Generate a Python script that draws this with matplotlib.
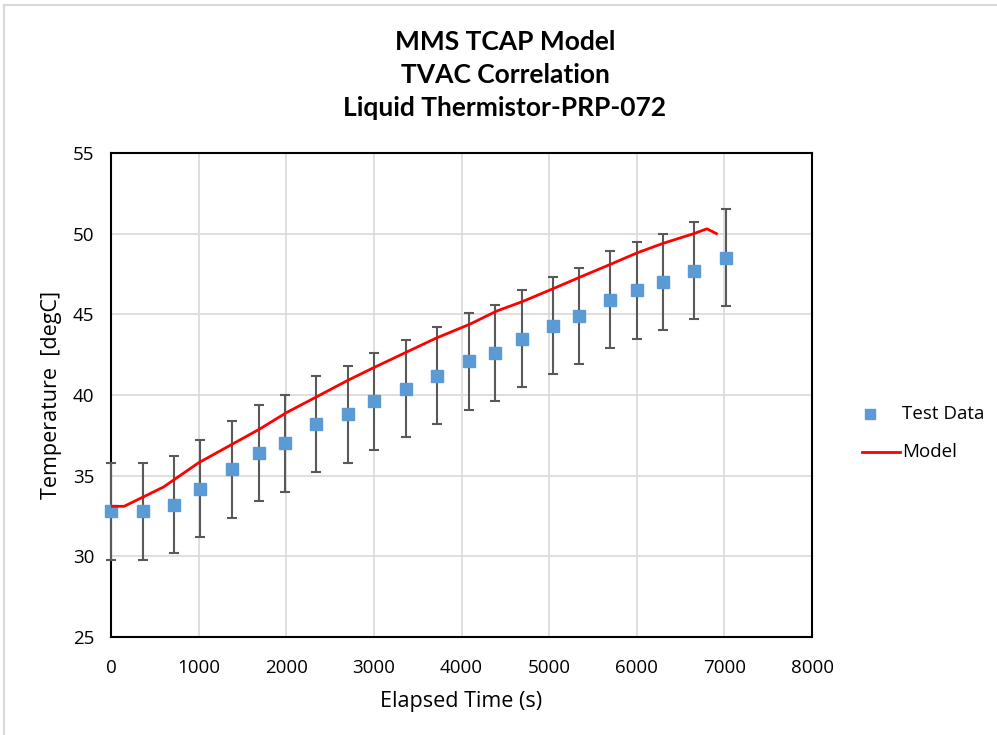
import matplotlib
matplotlib.use("Agg")
import matplotlib.pyplot as plt
from matplotlib.lines import Line2D

# Test data (elapsed time in s, temperature in degC) with +/- uncertainty
test_time = [0, 365, 719, 1015, 1380, 1687, 1984, 2338, 2702, 2999, 3364,
             3717, 4082, 4379, 4686, 5040, 5336, 5690, 5998, 6294, 6659, 7024]
test_temp = [32.8, 32.8, 33.2, 34.2, 35.4, 36.4, 37.0, 38.2, 38.8, 39.6, 40.4,
             41.2, 42.1, 42.6, 43.5, 44.3, 44.9, 45.9, 46.5, 47.0, 47.7, 48.5]
test_err = [3.0] * len(test_time)

# Model prediction
model_time = [0, 150, 600, 1000, 1400, 1700, 2000, 2350, 2700, 3000, 3350, 3700,
              4100, 4400, 4700, 5050, 5350, 5700, 6000, 6300, 6650, 6800, 6910]
model_temp = [33.1, 33.1, 34.3, 35.8, 37.0, 37.9, 38.9, 39.9, 40.9, 41.7, 42.6,
              43.5, 44.4, 45.2, 45.8, 46.6, 47.3, 48.1, 48.8, 49.4, 50.0, 50.3, 50.0]

x_ticks = [0, 1000, 2000, 3000, 4000, 5000, 6000, 7000, 8000]
y_ticks = [25, 30, 35, 40, 45, 50, 55]

title_lines = ["MMS TCAP Model", "TVAC Correlation", "Liquid Thermistor-PRP-072"]
legend_labels = ["Test Data", "Model"]

plt.rcParams['font.family'] = ['Open Sans', 'DejaVu Sans']

W, H = 997, 735
fig = plt.figure(figsize=(W / 100, H / 100), dpi=100)
ax = fig.add_axes([111 / W, 1 - 637 / H, (812 - 111) / W, (637 - 153) / H])

ax.errorbar(test_time, test_temp, yerr=test_err, fmt='s', color='#5B9BD5',
            markersize=8, ecolor='#595959', elinewidth=1.5, capsize=3.5,
            capthick=1.5, clip_on=False, zorder=3)
ax.plot(model_time, model_temp, color='#FF0000', linewidth=2, zorder=4)

ax.set_xlim(0, 8000)
ax.set_ylim(25, 55)
ax.set_xticks(x_ticks)
ax.set_yticks(y_ticks)
ax.tick_params(length=0, labelsize=13.5, colors='#000000', pad=12)
ax.tick_params(axis='x', pad=16)
ax.grid(True, color='#d9d9d9', linewidth=1.2)
ax.set_axisbelow(True)
for s in ax.spines.values():
    s.set_color('#000000')
    s.set_linewidth(1.5)

ax.set_xlabel('Elapsed Time (s)', fontsize=15.5, labelpad=10)
ax.set_ylabel('Temperature  [degC]', fontsize=15.5, labelpad=8)

for i, line in enumerate(title_lines):
    fig.text(505 / W, 1 - (42 + 33 * i) / H, line, ha='center', va='center',
             fontsize=19, fontweight='bold', family=['Lato', 'DejaVu Sans'])

# Legend entries
def fx(px):
    return px / W

def fy(py):
    return 1 - py / H

fig.add_artist(Line2D([fx(870)], [fy(414)], transform=fig.transFigure, marker='s',
                      linestyle='none', color='#5B9BD5', markersize=7))
fig.add_artist(Line2D([fx(862), fx(900)], [fy(452), fy(452)], transform=fig.transFigure,
                      color='#FF0000', linewidth=2))
fig.text(fx(902), fy(414), legend_labels[0], ha='left', va='center', fontsize=13.5)
fig.text(fx(902), fy(452), legend_labels[1], ha='left', va='center', fontsize=13.5)

# Chart-area border
fig.add_artist(Line2D([fx(4), fx(4)], [0, fy(5)], transform=fig.transFigure,
                      color='#d9d9d9', linewidth=1.5))
fig.add_artist(Line2D([fx(4), 1], [fy(5), fy(5)], transform=fig.transFigure,
                      color='#d9d9d9', linewidth=1.5))

fig.savefig('out.png', dpi=100, facecolor='white')
